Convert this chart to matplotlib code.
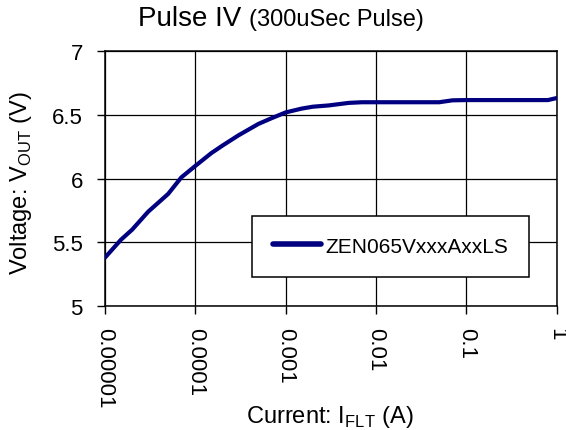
import matplotlib
matplotlib.use("Agg")
import matplotlib.pyplot as plt
from matplotlib.ticker import FixedLocator, NullLocator

plt.rcParams['font.family'] = ['Liberation Sans', 'DejaVu Sans']
plt.rcParams['mathtext.fontset'] = 'custom'
plt.rcParams['mathtext.rm'] = 'Liberation Sans'

current = [1e-5, 1.5e-5, 2e-5, 3e-5, 5e-5, 7e-5, 1e-4, 1.5e-4, 2e-4, 3e-4,
           5e-4, 7e-4, 1e-3, 1.5e-3, 2e-3, 3e-3, 5e-3, 7e-3, 1e-2, 2e-2,
           5e-2, 7e-2, 1e-1, 2e-1, 5e-1, 8e-1, 1.0]
voltage = [5.38, 5.52, 5.60, 5.74, 5.88, 6.01, 6.10, 6.20, 6.26, 6.34,
           6.43, 6.475, 6.52, 6.55, 6.565, 6.575, 6.595, 6.60, 6.60, 6.60,
           6.60, 6.615, 6.617, 6.617, 6.617, 6.617, 6.633]
series_name = "ZEN065VxxxAxxLS"
xticks = [1e-5, 1e-4, 1e-3, 1e-2, 1e-1, 1]
xticklabels = ["0.00001", "0.0001", "0.001", "0.01", "0.1", "1"]
yticks = [5, 5.5, 6, 6.5, 7]
yticklabels = ["5", "5.5", "6", "6.5", "7"]

W, H = 566, 431
fig = plt.figure(figsize=(W / 100, H / 100), dpi=100)
ax = fig.add_axes([105 / W, 1 - 307 / H, (556.7 - 105) / W, (307 - 52.3) / H])

ax.plot(current, voltage, color='#000080', lw=3.0, solid_capstyle='round',
        solid_joinstyle='round', label=series_name, zorder=3)

ax.set_xscale('log')
ax.set_xlim(1e-5, 1)
ax.set_ylim(5, 7)
ax.xaxis.set_major_locator(FixedLocator(xticks))
ax.xaxis.set_minor_locator(NullLocator())
ax.set_xticklabels(xticklabels, rotation=-90, ha='center', va='top')
ax.set_yticks(yticks)
ax.set_yticklabels(yticklabels)
ax.tick_params(axis='both', direction='out', length=6, width=1.0,
               color='black', labelsize=16)
ax.tick_params(axis='x', pad=9)
ax.tick_params(axis='y', pad=10)

ax.grid(True, color='black', lw=0.9)
ax.set_axisbelow(True)
for s in ax.spines.values():
    s.set_color('black')
    s.set_linewidth(1.1)

ax.set_xlabel(r"Current: I$_{\mathrm{FLT}}$ (A)", fontsize=17, va='baseline')
ax.xaxis.set_label_coords(0.497, (307 - 423) / (307 - 52.3))
ax.set_ylabel(r"Voltage: V$_{\mathrm{OUT}}$ (V)", fontsize=17, va='center')
ax.yaxis.set_label_coords((21 - 105) / (556.7 - 105), 0.485)

leg = ax.legend(loc='upper left', bbox_to_anchor=(0.325, 0.354),
                borderaxespad=0, fontsize=15, frameon=True, fancybox=False,
                framealpha=1, edgecolor='black', borderpad=1.0,
                handlelength=2.3, handletextpad=0.25)
leg.get_frame().set_linewidth(1.1)
for h in leg.get_lines():
    h.set_linewidth(4.0)

fig.text(241 / W, 1 - 26 / H, "Pulse IV", fontsize=20, ha='right', va='baseline')
fig.text(249 / W, 1 - 26 / H, "(300uSec Pulse)", fontsize=17, ha='left', va='baseline')

fig.savefig("out.png", dpi=100, facecolor='white')
